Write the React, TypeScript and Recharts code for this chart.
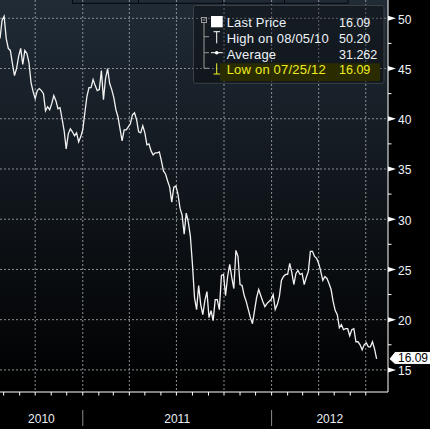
import { CartesianGrid, Line, LineChart, ReferenceLine, XAxis, YAxis } from "recharts";

const FONT = '"Liberation Sans", Arial, sans-serif';

// days since 2010-01-01
const dayOf = (s: string) =>
  Math.round(
    (Date.UTC(+s.slice(0, 4), +s.slice(5, 7) - 1, +s.slice(8, 10)) - Date.UTC(2010, 0, 1)) /
      86400000
  );

// samples every 4 calendar days
const firstSample = "2010-07-25";
const sampleStepDays = 4;
const prices = [
  48.0, 49.8, 50.2, 48.0, 47.0, 46.8, 45.5, 44.3, 45.0, 46.2,
  47.0, 45.4, 46.8, 46.5, 45.6, 43.6, 42.7, 42.0, 42.8, 43.0,
  42.8, 42.5, 40.8, 41.2, 40.9, 41.5, 42.3, 41.8, 41.0, 41.1,
  40.0, 38.8, 37.0, 38.5, 39.0, 38.7, 38.3, 38.6, 37.7, 38.2,
  38.9, 40.6, 42.2, 43.1, 43.1, 43.9, 43.3, 42.8, 42.9, 44.8,
  41.9, 44.0, 45.0, 43.5, 42.9, 42.1, 40.9, 40.2, 39.0, 37.8,
  38.9, 38.9, 39.2, 39.5, 40.4, 40.6, 39.9, 38.7, 38.6, 39.3,
  38.6, 37.4, 37.5, 36.8, 36.4, 36.6, 36.6, 36.7, 35.8, 34.8,
  34.5, 33.8, 33.2, 31.7, 33.2, 33.3, 32.5, 31.1, 30.4, 28.5,
  30.6, 29.7, 28.3, 25.5, 22.2, 21.0, 23.4, 21.5, 20.5, 21.9,
  22.8, 20.2, 20.9, 19.9, 22.0, 22.0, 21.0, 24.4, 24.5, 22.4,
  24.3, 25.5, 24.2, 23.1, 26.9, 26.3, 23.5, 23.4, 22.4, 21.8,
  21.0, 20.2, 19.6, 20.9, 22.2, 23.0, 22.4, 21.8, 21.3, 21.6,
  21.8, 22.0, 22.5, 21.0, 21.5, 22.3, 23.9, 24.3, 24.5, 24.5,
  25.6, 24.7, 23.5, 24.6, 24.9, 24.5, 24.6, 23.5, 24.2, 24.8,
  26.8, 26.8, 26.3, 26.1, 25.6, 24.8, 23.9, 24.3, 24.1, 23.6,
  23.0, 21.8, 20.9, 20.5, 19.2, 19.5, 19.0, 19.1, 19.1, 18.4,
  19.0, 19.1, 17.8, 17.8, 17.5, 17.0, 17.5, 17.7, 17.3, 17.3,
  17.8, 17.1, 16.09,
];

const xStart = "2010-07-25";
const xEnd = "2012-08-13";
const monthTicks = [
  "2010-08-01", "2010-09-01", "2010-10-01", "2010-11-01", "2010-12-01",
  "2011-01-01", "2011-02-01", "2011-03-01", "2011-04-01", "2011-05-01", "2011-06-01",
  "2011-07-01", "2011-08-01", "2011-09-01", "2011-10-01", "2011-11-01", "2011-12-01",
  "2012-01-01", "2012-02-01", "2012-03-01", "2012-04-01", "2012-05-01", "2012-06-01",
  "2012-07-01",
];
const quarterLines = [
  "2010-10-01", "2011-01-01", "2011-04-01", "2011-07-01",
  "2011-10-01", "2012-01-01", "2012-04-01", "2012-07-01",
];
const yearStarts = ["2011-01-01", "2012-01-01"];
const yearLabels = ["2010", "2011", "2012"];

const priceTicks = [15, 17.5, 20, 22.5, 25, 27.5, 30, 32.5, 35, 37.5, 40, 42.5, 45, 47.5, 50];
const priceGrid = [15, 20, 25, 30, 35, 40, 45, 50];
const yDomain: [number, number] = [12.8, 51.82];
const lastPrice = 16.09;

const legendLabels = ["Last Price", "High on 08/05/10", "Average", "Low on 07/25/12"];
const legendValues = ["16.09", "50.20", "31.262", "16.09"];

const data = prices.map((price, i) => ({
  day: dayOf(firstSample) + i * sampleStepDays,
  price,
}));

const d0 = dayOf(xStart);
const d1 = dayOf(xEnd);
const yearStartDays = yearStarts.map(dayOf);
const edges = [d0, ...yearStartDays, d1];
const yearLabelAt = new Map<number, string>(
  yearLabels.map((l, i) => [(edges[i] + edges[i + 1]) / 2, l])
);
const xTicks = [...monthTicks.map(dayOf), ...yearLabelAt.keys()].sort((a, b) => a - b);

function XTick({ x, y, payload }: any) {
  const v = payload.value;
  const label = yearLabelAt.get(v);
  if (label) {
    return (
      <text x={x} y={y + 31} textAnchor="middle" fill="#e9eef4" fontSize={12} fontFamily={FONT}>
        {label}
      </text>
    );
  }
  return (
    <g>
      <line x1={x} x2={x} y1={y} y2={y + 3.5} stroke="#fff" />
      {yearStartDays.includes(v) && (
        <line x1={x} x2={x} y1={y + 18} y2={y + 34} stroke="#8c8c8c" />
      )}
    </g>
  );
}

function YTick({ x, y, payload }: any) {
  const v = payload.value;
  if (v % 5 !== 0) return <line x1={x} x2={x + 3.5} y1={y} y2={y} stroke="#fff" />;
  return (
    <g>
      <polygon points={`${x},${y - 2.5} ${x + 8},${y} ${x},${y + 2.5}`} fill="#fff" />
      <text x={x + 10} y={y + 5.5} fill="#eef3f8" fontSize={12} fontFamily={FONT}>
        {v}
      </text>
    </g>
  );
}

function LastPriceTag({ viewBox }: any) {
  const r = viewBox.x + viewBox.width;
  const y = viewBox.y;
  return (
    <g>
      <polygon
        points={`${r + 1},${y} ${r + 7},${y - 7.5} ${r + 50},${y - 7.5} ${r + 50},${y + 5.5} ${r + 7},${y + 5.5}`}
        fill="#fff"
        stroke="#000"
      />
      <text x={r + 10} y={y + 3} fill="#000" fontSize={12} fontFamily={FONT}>
        {lastPrice.toFixed(2)}
      </text>
    </g>
  );
}

function LegendBox() {
  const rowY = (i: number) => 26.7 + 15.9 * i;
  return (
    <svg
      width={430}
      height={429}
      style={{ position: "absolute", left: 0, top: 0, pointerEvents: "none" }}
    >
      {/* toolbar edge cut off at the top */}
      <rect x={72.5} y={-4} width={275.5} height={7.3} fill="none" stroke="#06090c" />
      {[138.5, 222.5, 284.5].map((x) => (
        <line key={x} x1={x} x2={x} y1={0} y2={3.3} stroke="#06090c" />
      ))}

      <rect x={193.5} y={5.5} width={190.5} height={77.8} rx={2} fill="rgba(0,0,0,0.32)" stroke="#3b4147" />
      <rect x={220} y={63.3} width={160} height={17.7} fill="#2b2b00" />

      {/* tree */}
      <rect x={201.5} y={17.5} width={5} height={5} fill="none" stroke="#9a9a9a" />
      <line x1={202.5} x2={205.5} y1={20} y2={20} stroke="#9a9a9a" />
      <line x1={204} x2={204} y1={22.7} y2={68.3} stroke="#9a9a9a" />
      <line x1={204} x2={209} y1={36.7} y2={36.7} stroke="#9a9a9a" />
      <line x1={204} x2={209} y1={52.7} y2={52.7} stroke="#9a9a9a" />
      <line x1={204} x2={209} y1={68.3} y2={68.3} stroke="#9a9a9a" />

      {/* icons */}
      <rect x={211} y={16} width={11.7} height={11.3} fill="#fff" />
      <line x1={213.5} x2={220} y1={31.7} y2={31.7} stroke="#fff" />
      <line x1={216.7} x2={216.7} y1={31.7} y2={43.3} stroke="#fff" />
      <line x1={211} x2={222.7} y1={52.7} y2={52.7} stroke="#fff" />
      <circle cx={216.7} cy={52.7} r={1.8} fill="#fff" />
      <line x1={216.7} x2={216.7} y1={63.3} y2={74} stroke="#ee2" />
      <line x1={213.5} x2={220} y1={74} y2={74} stroke="#ee2" />

      {legendLabels.map((label, i) => {
        const color = i === 3 ? "#eeee22" : "#eef3f8";
        return (
          <g key={label} fontFamily={FONT} fill={color}>
            <text x={226.7} y={rowY(i)} fontSize={13} letterSpacing={0.2}>
              {label}
            </text>
            <text x={339} y={rowY(i)} fontSize={12.5}>
              {legendValues[i]}
            </text>
          </g>
        );
      })}
    </svg>
  );
}

export default function App() {
  return (
    <div style={{ position: "absolute", left: 0, top: 0, width: 430, height: 429, background: "#000" }}>
      <LineChart width={430} height={429} data={data} margin={{ top: 0, right: 0, bottom: 0, left: 0 }}>
        <defs>
          <linearGradient id="bgGrad" x1="0" y1="0" x2="0" y2="1">
            <stop offset="0%" stopColor="#202b36" />
            <stop offset="100%" stopColor="#000000" />
          </linearGradient>
        </defs>
        <CartesianGrid
          fill="url(#bgGrad)"
          fillOpacity={1}
          stroke="#8a8f94"
          strokeDasharray="2 2"
          horizontalValues={priceGrid}
          verticalValues={quarterLines.map(dayOf)}
        />
        <XAxis
          dataKey="day"
          type="number"
          domain={[d0, d1]}
          allowDataOverflow
          ticks={xTicks}
          interval={0}
          height={37}
          tickSize={0}
          tickMargin={0}
          tickLine={false}
          axisLine={{ stroke: "#fff" }}
          tick={<XTick />}
        />
        <YAxis
          orientation="right"
          type="number"
          domain={yDomain}
          allowDataOverflow
          ticks={priceTicks}
          interval={0}
          width={42}
          tickSize={0}
          tickMargin={0}
          tickLine={false}
          axisLine={{ stroke: "#fff" }}
          tick={<YTick />}
        />
        <Line
          type="linear"
          dataKey="price"
          stroke="#f2f2f2"
          strokeWidth={1.3}
          dot={false}
          activeDot={false}
          isAnimationActive={false}
        />
        <ReferenceLine
          y={lastPrice}
          stroke="none"
          ifOverflow="visible"
          label={{ content: (p: any) => <LastPriceTag viewBox={p.viewBox} /> }}
        />
      </LineChart>
      <LegendBox />
    </div>
  );
}
